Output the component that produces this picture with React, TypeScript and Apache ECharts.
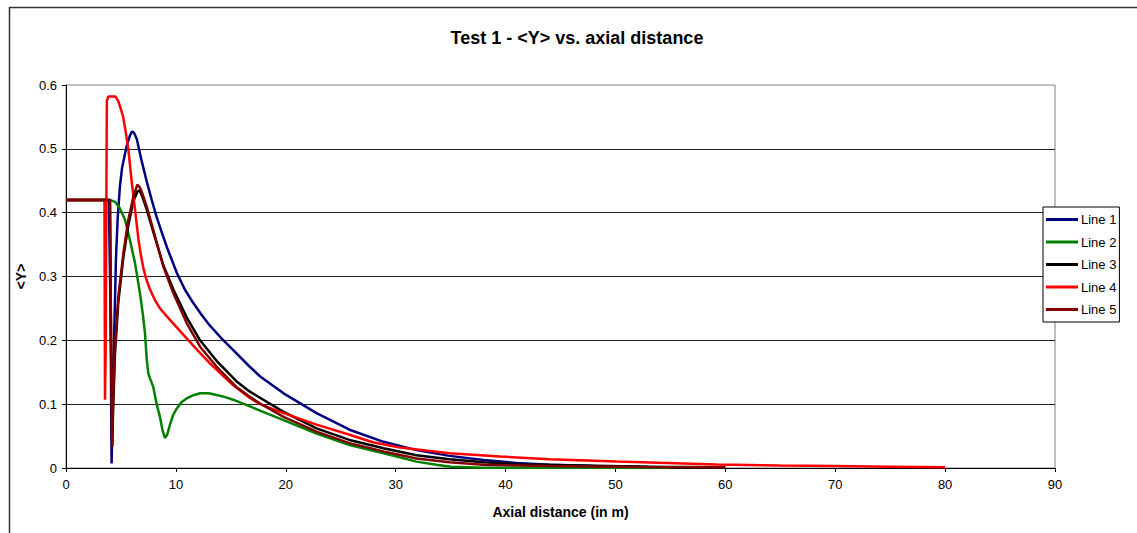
import React, { useEffect, useRef } from "react";
import * as echarts from "echarts";

const titleText = "Test 1 - <Y> vs. axial distance";
const xAxisName = "Axial distance (in m)";
const yAxisName = "<Y>";
const seriesNames = ["Line 1", "Line 2", "Line 3", "Line 4", "Line 5"];
const seriesColors = ["#000080", "#008000", "#000000", "#FF0000", "#800000"];

const line1: number[][] = [
  [0, 0.42], [3.9, 0.42], [4.05, 0.25], [4.15, 0.007], [4.25, 0.1], [4.4, 0.22], [4.55, 0.33], [4.7, 0.39],
  [4.9, 0.44], [5.1, 0.47], [5.5, 0.503], [5.8, 0.52], [6.0, 0.527], [6.2, 0.525], [6.45, 0.515], [6.7, 0.495],
  [6.9, 0.48], [7.3, 0.452], [7.8, 0.42], [8.25, 0.393], [8.7, 0.37], [9.2, 0.345], [10.1, 0.305], [10.8, 0.28],
  [11.6, 0.258], [12.3, 0.241], [13.1, 0.223], [14.1, 0.204], [15.2, 0.185], [16.7, 0.159], [17.7, 0.143],
  [19.8, 0.117], [22.8, 0.086], [25.8, 0.06], [28.9, 0.041], [31.9, 0.028], [34.9, 0.019], [38, 0.0125],
  [41, 0.008], [44, 0.005], [48, 0.003], [55, 0.001],
];

const line2: number[][] = [
  [0, 0.42], [4.0, 0.42], [4.46, 0.417], [4.9, 0.407], [5.37, 0.389], [5.82, 0.357], [6.28, 0.321], [6.73, 0.274],
  [7.0, 0.24], [7.19, 0.211], [7.35, 0.17], [7.49, 0.148], [7.7, 0.138], [7.94, 0.127], [8.25, 0.1], [8.55, 0.08],
  [8.8, 0.058], [9.0, 0.047], [9.2, 0.052], [9.46, 0.068], [9.75, 0.083], [10.07, 0.093], [10.5, 0.103],
  [10.98, 0.109], [11.6, 0.114], [12.2, 0.117], [13.0, 0.117], [13.8, 0.114], [14.5, 0.111], [15.2, 0.107],
  [16.4, 0.099], [17.65, 0.09], [19.8, 0.075], [22.8, 0.054], [25.8, 0.036], [28.9, 0.023], [31.9, 0.01],
  [33.7, 0.005], [35, 0.002], [38, 0.0005], [55, 0.0],
];

const line3: number[][] = [
  [0, 0.42], [4.0, 0.42], [4.1, 0.2], [4.2, 0.035], [4.3, 0.1], [4.46, 0.18], [4.76, 0.26], [5.22, 0.33],
  [5.67, 0.38], [6.13, 0.418], [6.5, 0.433], [6.7, 0.435], [6.95, 0.425], [7.34, 0.405], [7.94, 0.37],
  [8.85, 0.318], [9.76, 0.28], [10.98, 0.236], [12.2, 0.2], [13.7, 0.168], [15.5, 0.136], [16.7, 0.12],
  [17.65, 0.11], [19.8, 0.088], [22.8, 0.062], [25.8, 0.044], [28.9, 0.031], [31.9, 0.02], [34.9, 0.0136],
  [38, 0.009], [41, 0.006], [47, 0.004], [53, 0.002], [60, 0.001],
];

const line4: number[][] = [
  [0, 0.42], [3.5, 0.42], [3.55, 0.107], [3.62, 0.2], [3.68, 0.45], [3.72, 0.575], [3.85, 0.582], [4.5, 0.582],
  [4.75, 0.575], [5.0, 0.562], [5.2, 0.55], [5.45, 0.525], [5.67, 0.5], [5.97, 0.45], [6.28, 0.405], [6.58, 0.36],
  [6.8, 0.335], [7.03, 0.314], [7.3, 0.296], [7.64, 0.28], [8.1, 0.263], [8.55, 0.25], [9.46, 0.232],
  [10.98, 0.203], [12.0, 0.184], [13.1, 0.164], [14.2, 0.146], [15.2, 0.13], [16.7, 0.11], [17.65, 0.1],
  [19.8, 0.086], [22.8, 0.068], [25.8, 0.052], [28, 0.04], [30.4, 0.032], [34.9, 0.023], [39.5, 0.018],
  [44, 0.0136], [50.1, 0.01], [54.7, 0.0078], [59.2, 0.0055], [65, 0.004], [70, 0.003], [75, 0.002], [80, 0.001],
];

const line5: number[][] = [
  [0, 0.42], [4.0, 0.42], [4.1, 0.2], [4.2, 0.033], [4.3, 0.12], [4.46, 0.19], [4.76, 0.268], [5.22, 0.336],
  [5.67, 0.389], [6.13, 0.425], [6.49, 0.444], [6.7, 0.44], [6.89, 0.433], [7.34, 0.41], [7.94, 0.373],
  [8.85, 0.316], [9.76, 0.274], [10.98, 0.227], [12.2, 0.19], [13.7, 0.159], [15.5, 0.127], [16.7, 0.112],
  [17.65, 0.101], [19.8, 0.08], [22.8, 0.057], [25.8, 0.039], [28.9, 0.026], [31.9, 0.015], [34.9, 0.009],
  [38, 0.005], [44, 0.003], [52, 0.0015], [60, 0.001],
];

const allLines = [line1, line2, line3, line4, line5];

const FONT = "Liberation Sans, Arial, sans-serif";

export default function App() {
  const ref = useRef<HTMLDivElement>(null);
  useEffect(() => {
    document.body.style.margin = "0";
    const chart = echarts.init(ref.current!, null, { renderer: "svg" });
    chart.setOption({
      animation: false,
      backgroundColor: "#ffffff",
      textStyle: { fontFamily: FONT },
      title: {
        text: titleText,
        left: 572,
        textAlign: "center",
        top: 24,
        textStyle: { fontSize: 18, fontWeight: "bold", color: "#000", fontFamily: FONT },
      },
      graphic: [
        {
          type: "rect",
          left: 7,
          top: 5,
          shape: { width: 1140, height: 540 },
          style: { fill: "none", stroke: "#333", lineWidth: 1.5 },
          silent: true,
        },
      ],
      legend: {
        orient: "vertical",
        left: 1043,
        top: 207,
        icon: "rect",
        itemWidth: 32,
        itemHeight: 3,
        itemGap: 9.5,
        padding: [6, 3, 6, 3],
        backgroundColor: "#fff",
        borderColor: "#000",
        borderWidth: 1,
        textStyle: { fontSize: 13, color: "#000", fontFamily: FONT, padding: [0, 0, 0, -2] },
        data: seriesNames,
      },
      grid: {
        left: 66,
        top: 85,
        right: 82,
        bottom: 65,
        show: true,
        borderColor: "#808080",
        borderWidth: 1,
        containLabel: false,
      },
      xAxis: {
        type: "value",
        min: 0,
        max: 90,
        interval: 10,
        name: xAxisName,
        nameLocation: "middle",
        nameGap: 37,
        nameTextStyle: { fontSize: 14, fontWeight: "bold", color: "#000", fontFamily: FONT },
        axisLine: { show: true, onZero: false, lineStyle: { color: "#000", width: 1 } },
        axisTick: { show: true, inside: false, length: 4, lineStyle: { color: "#000" } },
        axisLabel: { fontSize: 13, color: "#000", margin: 10, fontFamily: FONT },
        splitLine: { show: false },
      },
      yAxis: {
        type: "value",
        min: 0,
        max: 0.6,
        interval: 0.1,
        name: yAxisName,
        nameLocation: "middle",
        nameGap: 38,
        nameRotate: 90,
        nameTextStyle: { fontSize: 14, fontWeight: "bold", color: "#000", fontFamily: FONT },
        axisLine: { show: true, lineStyle: { color: "#000", width: 1 } },
        axisTick: { show: true, inside: false, length: 4, lineStyle: { color: "#000" } },
        axisLabel: { fontSize: 13, color: "#000", margin: 9, fontFamily: FONT },
        splitLine: { show: true, showMaxLine: false, showMinLine: false, lineStyle: { color: "#222", width: 1 } },
      },
      series: allLines.map((d, i) => ({
        name: seriesNames[i],
        type: "line",
        data: d,
        showSymbol: false,
        symbol: "none",
        color: seriesColors[i],
        lineStyle: { color: seriesColors[i], width: 2.5 },
        z: 2 + i,
      })),
    });
    return () => chart.dispose();
  }, []);
  return <div ref={ref} style={{ width: 1137, height: 533 }} />;
}
